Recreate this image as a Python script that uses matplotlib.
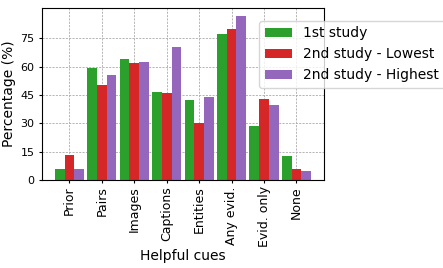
import matplotlib
matplotlib.use("Agg")
import matplotlib.pyplot as plt
import numpy as np

categories = ["Prior", "Pairs", "Images", "Captions", "Entities", "Any evid.", "Evid. only", "None"]
first_study = [5.8, 59.3, 64.0, 46.6, 42.3, 77.3, 28.6, 12.7]
second_lowest = [13.2, 50.3, 62.0, 46.0, 30.0, 80.0, 42.9, 5.8]
second_highest = [5.8, 55.6, 62.5, 70.4, 43.9, 86.8, 39.7, 4.8]
series_labels = ["1st study", "2nd study - Lowest", "2nd study - Highest"]
yticks = [0, 15, 30, 45, 60, 75]

fig = plt.figure(figsize=(4.43, 2.68), dpi=100)
ax = fig.add_axes([0.095, 0.328, 0.636, 0.642])
x = np.arange(len(categories))
w = 0.3
ax.bar(x - w, first_study, w, color="#2ca02c", label=series_labels[0], zorder=2)
ax.bar(x, second_lowest, w, color="#d62728", label=series_labels[1], zorder=2)
ax.bar(x + w, second_highest, w, color="#9467bd", label=series_labels[2], zorder=2)
ax.set_ylim(0, 91)
ax.set_yticks(yticks)
ax.set_xticks(x)
ax.set_xticklabels(categories, rotation=90, fontsize=9)
ax.tick_params(axis="y", labelsize=8, length=2.5, pad=3)
ax.tick_params(axis="x", length=2.5, pad=2)
ax.grid(True, linestyle=(0, (2.5, 1.5)), color="#aaaaaa", linewidth=0.6, zorder=0)
ax.set_axisbelow(True)
ax.set_ylabel("Percentage (%)", fontsize=10, labelpad=3)
ax.set_xlabel("Helpful cues", fontsize=10, labelpad=1)
ax.legend(loc="upper left", bbox_to_anchor=(0.77, 0.925), fontsize=10, borderaxespad=0)
fig.savefig("out.png", dpi=100)
